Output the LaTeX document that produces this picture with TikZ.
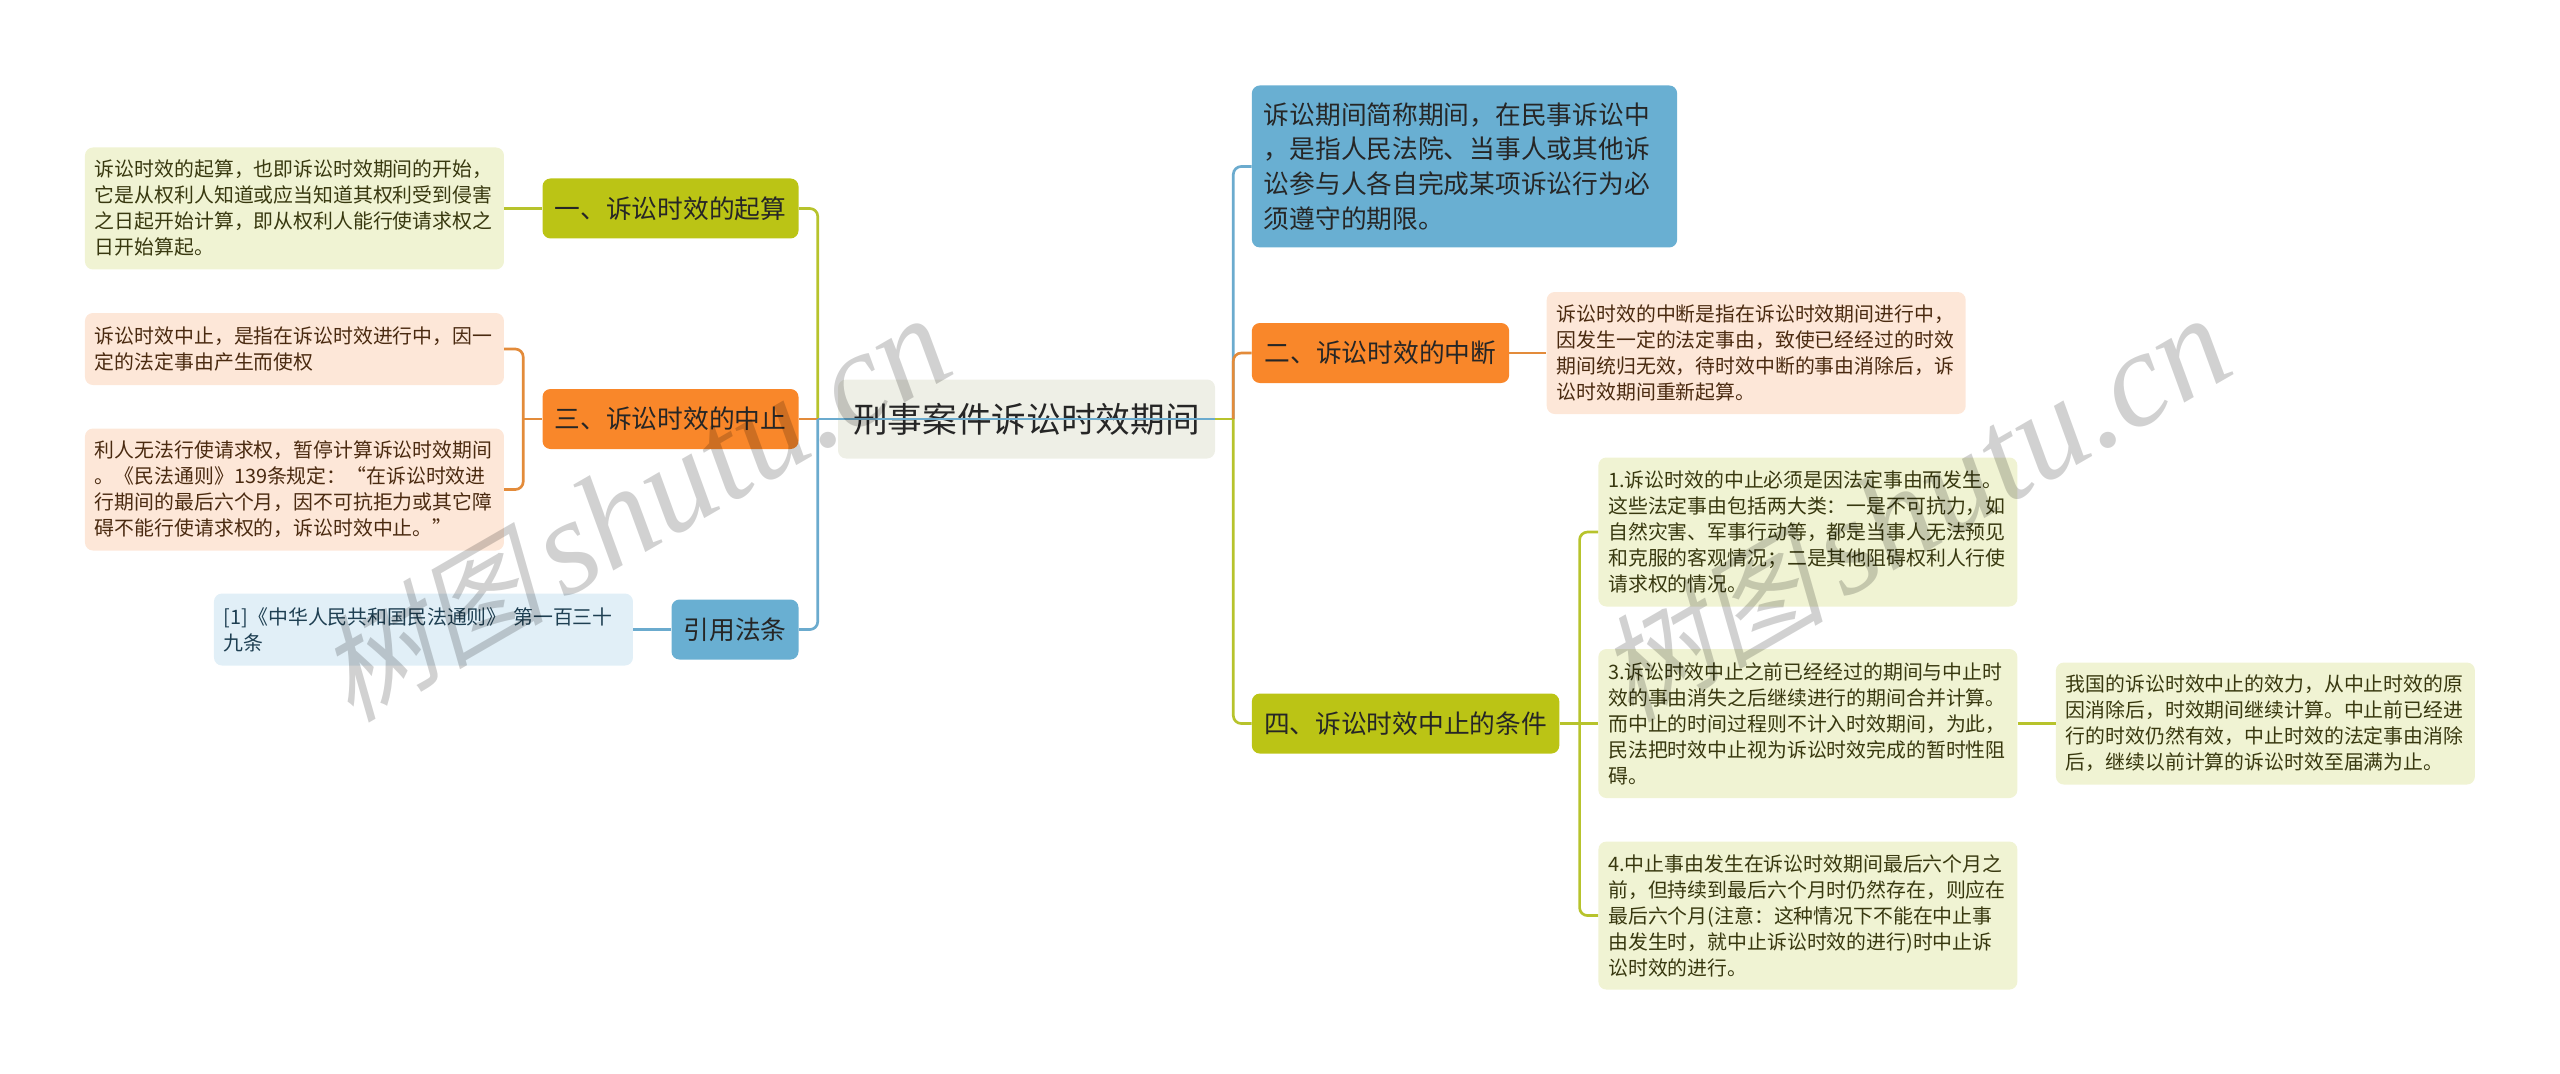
\documentclass[tikz,border=0pt]{standalone}
\usepackage{fontspec}
\setmainfont{Noto Sans CJK SC}
\newfontfamily\wmcjk[FakeSlant=0.25]{Noto Sans CJK SC}
\newfontfamily\wmlatin{Liberation Serif}
\usepackage{xcolor}
\usepackage{tikz}
\usetikzlibrary{arrows.meta,positioning,calc}
\definecolor{topicgreen}{HTML}{BBC415}
\definecolor{topicorange}{HTML}{F9872A}
\definecolor{topicblue}{HTML}{69AFD2}
\definecolor{leafgreen}{HTML}{F0F3D3}
\definecolor{leaforange}{HTML}{FDE7D8}
\definecolor{leafblue}{HTML}{E1EFF7}
\definecolor{rootgrey}{HTML}{EEEFE6}
\definecolor{linkgreen}{HTML}{B7C32C}
\definecolor{linkorange}{HTML}{E38B3A}
\definecolor{linkblue}{HTML}{6BABCE}
\definecolor{inkgreen}{HTML}{38380F}
\definecolor{inkorange}{HTML}{4A2A10}
\definecolor{inkblue}{HTML}{1E3F52}
\newcommand{\marktext}{{\wmcjk\fontsize{86}{100}\selectfont 树图}\hspace*{13pt}{\wmlatin\itshape\fontsize{102}{100}\selectfont shutu.cn}}

\begin{document}
\begin{tikzpicture}[
    root/.style={rounded corners=6pt, fill=rootgrey, minimum width=282.75pt, minimum height=59.25pt, inner sep=0pt, text=black!85, font=\fontsize{26}{30}\selectfont},
    branch/.style={rounded corners=6pt, minimum height=45pt, inner sep=0pt, text=black!85, font=\fontsize{19.3}{24}\selectfont},
    leaf/.style={rounded corners=6pt, inner xsep=7.5pt, inner ysep=0pt, text width=299.25pt, align=left, font=\fontsize{14.9}{19.5}\selectfont},
    gleaf/.style={leaf, fill=leafgreen, text=inkgreen},
    oleaf/.style={leaf, fill=leaforange, text=inkorange},
    bleaf/.style={leaf, fill=leafblue, text=inkblue},
    glink/.style={draw=linkgreen, line width=2pt, rounded corners=6pt},
    olink/.style={draw=linkorange, line width=2pt, rounded corners=6pt},
    blink/.style={draw=linkblue, line width=2pt, rounded corners=6pt},
    mark text/.style={rotate=30, text=black, text opacity=0.18}
  ]
    \useasboundingbox (0,0) rectangle (1920pt,-805.5pt);
    \node[root] (title) at (769.9pt,-314.25pt) {刑事案件诉讼时效期间};
    % left side
    \node[branch, fill=topicorange, minimum width=192pt, left=29.25pt of title] (stop) {三、诉讼时效的中止};
    \node[branch, fill=topicgreen, minimum width=192pt, above=112.5pt of stop] (start) {一、诉讼时效的起算};
    \node[branch, fill=topicblue, minimum width=95.25pt, below=112.5pt of stop.south east, anchor=north east] (law) {引用法条};
    \node[gleaf, minimum height=91.5pt, left=28.5pt of start] (startnote) {诉讼时效的起算，也即诉讼时效期间的开始，\\它是从权利人知道或应当知道其权利受到侵害\\之日起开始计算，即从权利人能行使请求权之\\日开始算起。};
    \node[oleaf, minimum height=54pt, left=28.5pt of stop, yshift=52.5pt] (stopa) {诉讼时效中止，是指在诉讼时效进行中，因一\\定的法定事由产生而使权};
    \node[oleaf, minimum height=91.5pt, below=32.25pt of stopa] (stopb) {利人无法行使请求权，暂停计算诉讼时效期间\\。《民法通则》139条规定：“在诉讼时效进\\行期间的最后六个月，因不可抗拒力或其它障\\碍不能行使请求权的，诉讼时效中止。”};
    \node[bleaf, minimum height=54pt, left=28.5pt of law] (lawnote) {[1]《中华人民共和国民法通则》 第一百三十\\九条};
    % right side
    \node[branch, fill=topicorange, minimum width=193pt, right=27.2pt of title.east, anchor=west, yshift=49.5pt] (cut) {二、诉讼时效的中断};
    \node[branch, fill=topicgreen, minimum width=230.6pt, below=232.5pt of cut.south west, anchor=north west] (cond) {四、诉讼时效中止的条件};
    \node[fill=topicblue, rounded corners=6pt, inner xsep=9pt, inner ysep=0pt, minimum height=121.5pt, text width=301pt, align=left, text=black!85, font=\fontsize{19.3}{25.9}\selectfont, above=56.25pt of cut.north west, anchor=south west] (period) {诉讼期间简称期间，在民事诉讼中\\，是指人民法院、当事人或其他诉\\讼参与人各自完成某项诉讼行为必\\须遵守的期限。};
    \node[oleaf, minimum height=91.5pt, right=27.75pt of cut] (cutnote) {诉讼时效的中断是指在诉讼时效期间进行中，\\因发生一定的法定事由，致使已经经过的时效\\期间统归无效，待时效中断的事由消除后，诉\\讼时效期间重新起算。};
    \node[gleaf, minimum height=111.75pt, right=28.9pt of cond] (condb) {3.诉讼时效中止之前已经经过的期间与中止时\\效的事由消失之后继续进行的期间合并计算。\\而中止的时间过程则不计入时效期间，为此，\\民法把时效中止视为诉讼时效完成的暂时性阻\\碍。};
    \node[gleaf, minimum height=111.75pt, above=31.5pt of condb] (conda) {1.诉讼时效的中止必须是因法定事由而发生。\\这些法定事由包括两大类：一是不可抗力，如\\自然灾害、军事行动等，都是当事人无法预见\\和克服的客观情况；二是其他阻碍权利人行使\\请求权的情况。};
    \node[gleaf, minimum height=111pt, below=32.25pt of condb] (condc) {4.中止事由发生在诉讼时效期间最后六个月之\\前，但持续到最后六个月时仍然存在，则应在\\最后六个月(注意：这种情况下不能在中止事\\由发生时，就中止诉讼时效的进行)时中止诉\\讼时效的进行。};
    \node[gleaf, minimum height=91.5pt, right=28.5pt of condb] (effect) {我国的诉讼时效中止的效力，从中止时效的原\\因消除后，时效期间继续计算。中止前已经进\\行的时效仍然有效，中止时效的法定事由消除\\后，继续以前计算的诉讼时效至届满为止。};
    % junctions
    \coordinate (trunkl) at ($(stop.east)+(14.25pt,0)$);
    \coordinate (trunkr) at ($(title.east)+(13.5pt,0)$);
    \coordinate (stopfork) at ($(stop.west)+(-14.25pt,0)$);
    \coordinate (condfork) at ($(cond.east)+(15pt,0)$);
    % links
    \draw[glink] (start.east) -| (trunkl);
    \draw[olink] (stop.east) -- (trunkl);
    \draw[blink] (law.east) -| (trunkl);
    \draw[blink] (trunkl) -- (title.east);
    \draw[glink] (startnote.east) -- (start.west);
    \draw[olink] (stop.west) -- (stopfork);
    \draw[olink] (stopa.east) -| (stopfork);
    \draw[olink] (stopb.east) -| (stopfork);
    \draw[blink] (lawnote.east) -- (law.west);
    \draw[glink] (title.east) -- (trunkr);
    \draw[blink] (period.west) -| (trunkr);
    \draw[olink] (cut.west) -| (trunkr);
    \draw[glink] (cond.west) -| (trunkr);
    \draw[olink] (cut.east) -- (cutnote.west);
    \draw[glink] (cond.east) -- (condfork);
    \draw[glink] (conda.west) -| (condfork);
    \draw[glink] (condb.west) -- (condfork);
    \draw[glink] (condc.west) -| (condfork);
    \draw[glink] (condb.east) -- (effect.west);
    % watermark
    \node[mark text] (marka) at (475pt,-382pt) {\marktext};
    \node[mark text, right=960pt of marka.center, anchor=center] (markb) {\marktext};
  \end{tikzpicture}
\end{document}
